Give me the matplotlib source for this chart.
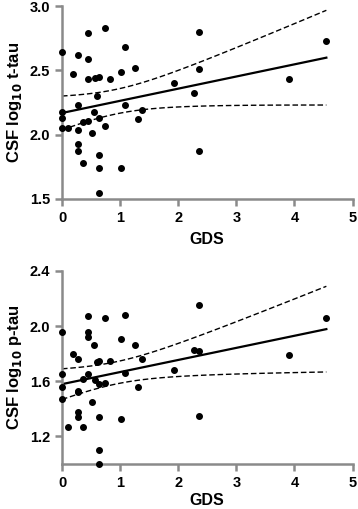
import numpy as np
import matplotlib
matplotlib.use('Agg')
import matplotlib.pyplot as plt

plt.rcParams['font.family'] = ['Liberation Sans', 'DejaVu Sans']
plt.rcParams['font.weight'] = 'bold'

# GDS score per subject (same subjects in both panels)
gds = [0.0, 0.0, 0.0, 0.0, 0.10, 0.19,
       0.28, 0.28, 0.28, 0.28, 0.28, 0.37, 0.37,
       0.45, 0.45, 0.45, 0.45, 0.51, 0.55, 0.56, 0.60,
       0.64, 0.64, 0.64, 0.64, 0.64, 0.74, 0.74, 0.83,
       1.01, 1.01, 1.09, 1.09, 1.25, 1.31, 1.37,
       1.92, 2.27, 2.36, 2.36, 2.36, 3.90, 4.55]

t_tau = [2.64, 2.18, 2.13, 2.05, 2.05, 2.47,
         2.62, 2.23, 2.04, 1.93, 1.87, 1.78, 2.10,
         2.79, 2.59, 2.43, 2.11, 2.01, 2.18, 2.44, 2.30,
         2.45, 2.13, 1.84, 1.74, 1.55, 2.83, 2.07, 2.43,
         2.49, 1.74, 2.68, 2.23, 2.52, 2.12, 2.19,
         2.40, 2.32, 2.80, 2.51, 1.87, 2.43, 2.73]

p_tau = [1.96, 1.65, 1.56, 1.47, 1.27, 1.80,
         1.76, 1.53, 1.52, 1.38, 1.34, 1.27, 1.62,
         2.07, 1.96, 1.92, 1.65, 1.45, 1.86, 1.61, 1.74,
         1.75, 1.58, 1.34, 1.10, 1.00, 2.06, 1.59, 1.75,
         1.91, 1.33, 2.08, 1.66, 1.86, 1.56, 1.76,
         1.68, 1.83, 2.15, 1.82, 1.35, 1.79, 2.06]

t_ticks = [1.5, 2.0, 2.5, 3.0]
p_ticks = [1.2, 1.6, 2.0, 2.4]
x_ticks = [0, 1, 2, 3, 4, 5]

GREY = '#8a8a8a'


def fit_band(x, y):
    x = np.asarray(x)
    y = np.asarray(y)
    n = len(x)
    slope, icpt = np.polyfit(x, y, 1)
    res = y - (icpt + slope * x)
    s = np.sqrt(np.sum(res ** 2) / (n - 2))
    xx = np.linspace(x.min(), x.max(), 100)
    se = s * np.sqrt(1.0 / n + (xx - x.mean()) ** 2 / np.sum((x - x.mean()) ** 2))
    t = 2.02  # t(0.975, df=41)
    yy = icpt + slope * xx
    return xx, yy, yy - t * se, yy + t * se


def panel(ax, x, y, ylim, yticks, ylabel, xpad):
    xx, yy, lo, hi = fit_band(x, y)
    ax.scatter(x, y, s=16, color='black', zorder=3, clip_on=False)
    ax.plot(xx, yy, color='black', lw=1.6)
    ax.plot(xx, lo, color='black', lw=1.0, ls=(0, (4, 2)))
    ax.plot(xx, hi, color='black', lw=1.0, ls=(0, (4, 2)))
    ax.set_xlim(0, 5)
    ax.set_ylim(*ylim)
    ax.set_xticks(x_ticks)
    ax.set_yticks(yticks)
    ax.set_yticklabels(['%.1f' % v for v in yticks])
    for sp in ['top', 'right']:
        ax.spines[sp].set_visible(False)
    for sp in ['left', 'bottom']:
        ax.spines[sp].set_color(GREY)
        ax.spines[sp].set_linewidth(1.8)
    ax.tick_params(colors=GREY, width=1.8, length=5, labelcolor='black',
                   labelsize=10.5)
    for lab in ax.get_xticklabels() + ax.get_yticklabels():
        lab.set_fontweight('bold')
    ax.set_xlabel('GDS', fontsize=11.5, fontweight='bold', labelpad=xpad)
    ax.set_ylabel(ylabel, fontsize=12, fontweight='bold', labelpad=4)


fig = plt.figure(figsize=(3.58, 5.09), dpi=100)
W, H = 358.0, 509.0
ax1 = fig.add_axes([62 / W, 1 - 199 / H, 290.5 / W, 193 / H])
ax2 = fig.add_axes([62 / W, 1 - 464 / H, 290.5 / W, 193 / H])

panel(ax1, gds, t_tau, (1.5, 3.0), t_ticks, r'CSF log$_{\mathbf{10}}$ t-tau', 5)
panel(ax2, gds, p_tau, (1.0, 2.4), p_ticks, r'CSF log$_{\mathbf{10}}$ p-tau', 2)

fig.savefig('out.png', dpi=100)
